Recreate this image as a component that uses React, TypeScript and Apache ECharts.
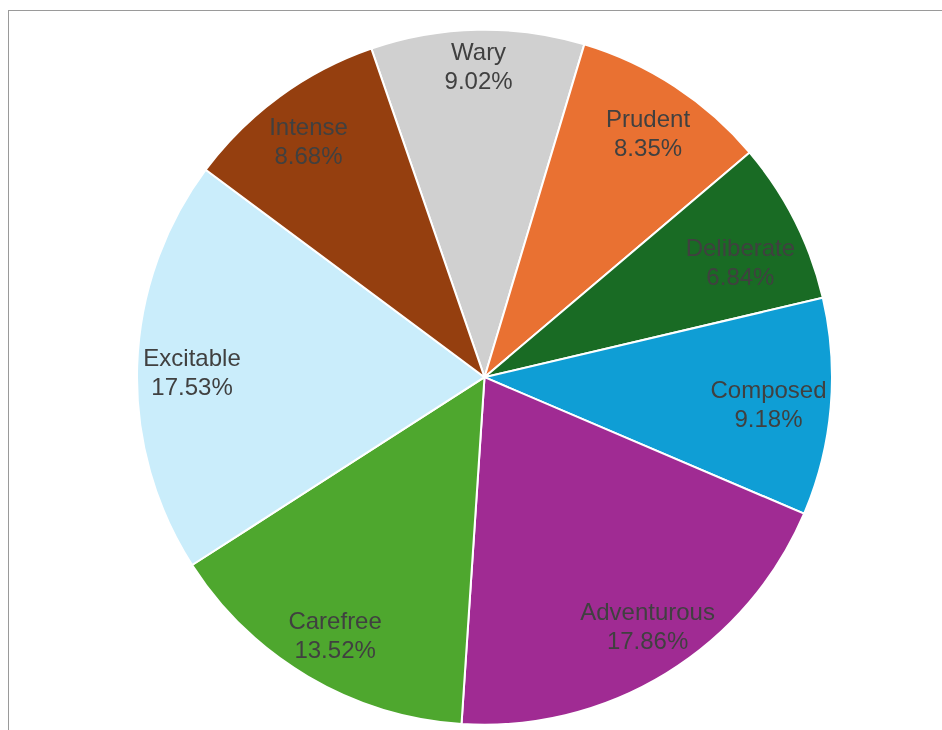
import React, { useEffect, useRef } from "react";
import * as echarts from "echarts";

const categories = ["Wary", "Prudent", "Deliberate", "Composed", "Adventurous", "Carefree", "Excitable", "Intense"];
const shares = [9.02, 8.35, 6.84, 9.18, 17.86, 13.52, 17.53, 8.68];
const sliceColors = ["#D0D0D0", "#E97132", "#196B24", "#0F9ED5", "#A02B93", "#4EA72E", "#CAEDFB", "#953F0F"];

const CX = 484.5;
const CY = 377.2;
const R = 347.5;
const START = 109;
const PAD = 4.5;
const FONT_SIZE = 24;
const LINE_H = 29;
const NUDGE_Y = 1.5;
const FONT_FAMILY = "Liberation Sans, Arial, sans-serif";

const labelText = (i: number) => [categories[i], `${shares[i].toFixed(2)}%`];

export default function App() {
  const ref = useRef<HTMLDivElement>(null);
  useEffect(() => {
    document.body.style.overflow = "hidden";
    const chart = echarts.init(ref.current as HTMLDivElement, null, { renderer: "svg" });
    const total = shares.reduce((a, b) => a + b, 0);
    // slice bounds in degrees, clockwise from 12 o'clock
    const top0 = 90 - START;
    let cum = 0;
    const bounds = shares.map((v) => {
      const a0 = top0 + (cum / total) * 360;
      cum += v;
      const a1 = top0 + (cum / total) * 360;
      return [a0, a1];
    });
    const ctx = document.createElement("canvas").getContext("2d") as CanvasRenderingContext2D;
    ctx.font = `${FONT_SIZE}px ${FONT_FAMILY}`;
    const rad = (deg: number) => (deg * Math.PI) / 180;
    const corners = (i: number, th: number, d: number) => {
      const px = d * Math.sin(rad(th));
      const py = -d * Math.cos(rad(th));
      const lines = labelText(i);
      const topY = -(lines.length * LINE_H) / 2;
      const pts: number[][] = [];
      lines.forEach((s, k) => {
        const hw = ctx.measureText(s).width / 2;
        const y0 = py + topY + k * LINE_H;
        const y1 = y0 + LINE_H;
        pts.push([px - hw, y0], [px + hw, y0], [px - hw, y1], [px + hw, y1]);
      });
      return pts;
    };
    const balancedAngle = (i: number, d: number) => {
      const [a0, a1] = bounds[i];
      const b0 = [Math.sin(rad(a0)), -Math.cos(rad(a0))];
      const b1 = [Math.sin(rad(a1)), -Math.cos(rad(a1))];
      let lo = a0;
      let hi = a1;
      for (let it = 0; it < 40; it++) {
        const th = (lo + hi) / 2;
        const pts = corners(i, th, d);
        let c0 = Infinity;
        let c1 = Infinity;
        for (const [x, y] of pts) {
          c0 = Math.min(c0, y * b0[0] - x * b0[1]);
          c1 = Math.min(c1, x * b1[1] - y * b1[0]);
        }
        if (c0 < c1) lo = th;
        else hi = th;
      }
      return (lo + hi) / 2;
    };
    const fitsCircle = (i: number, th: number, d: number) =>
      corners(i, th, d).every(([x, y]) => Math.hypot(x, y) <= R - PAD);
    const placeLabel = (i: number) => {
      let lo = 0;
      let hi = R;
      for (let it = 0; it < 40; it++) {
        const d = (lo + hi) / 2;
        if (fitsCircle(i, balancedAngle(i, d), d)) lo = d;
        else hi = d;
      }
      const th = balancedAngle(i, lo);
      return { x: CX + lo * Math.sin(rad(th)), y: CY - lo * Math.cos(rad(th)) + NUDGE_Y };
    };
    chart.setOption({
      animation: false,
      series: [
        {
          type: "pie",
          center: [CX, CY],
          radius: [0, R],
          startAngle: START,
          clockwise: true,
          avoidLabelOverlap: false,
          silent: true,
          data: categories.map((name, i) => ({
            name,
            value: shares[i],
            itemStyle: { color: sliceColors[i] },
          })),
          itemStyle: { borderColor: "#ffffff", borderWidth: 2 },
          label: {
            show: true,
            position: "inside",
            formatter: (p: any) => labelText(p.dataIndex).join("\n"),
            color: "#404040",
            fontSize: FONT_SIZE,
            lineHeight: LINE_H,
            fontFamily: FONT_FAMILY,
            align: "center",
            verticalAlign: "middle",
          },
          labelLine: { show: false },
          labelLayout: (params: any) => placeLabel(params.dataIndex),
        },
      ],
    });
    return () => chart.dispose();
  }, []);
  return (
    <>
      <div
        style={{
          position: "fixed",
          left: 8,
          top: 10,
          width: 1400,
          height: 1400,
          border: "1px solid #9a9a9a",
        }}
      />
      <div ref={ref} style={{ position: "fixed", left: 0, top: 0, width: 942, height: 730 }} />
    </>
  );
}
